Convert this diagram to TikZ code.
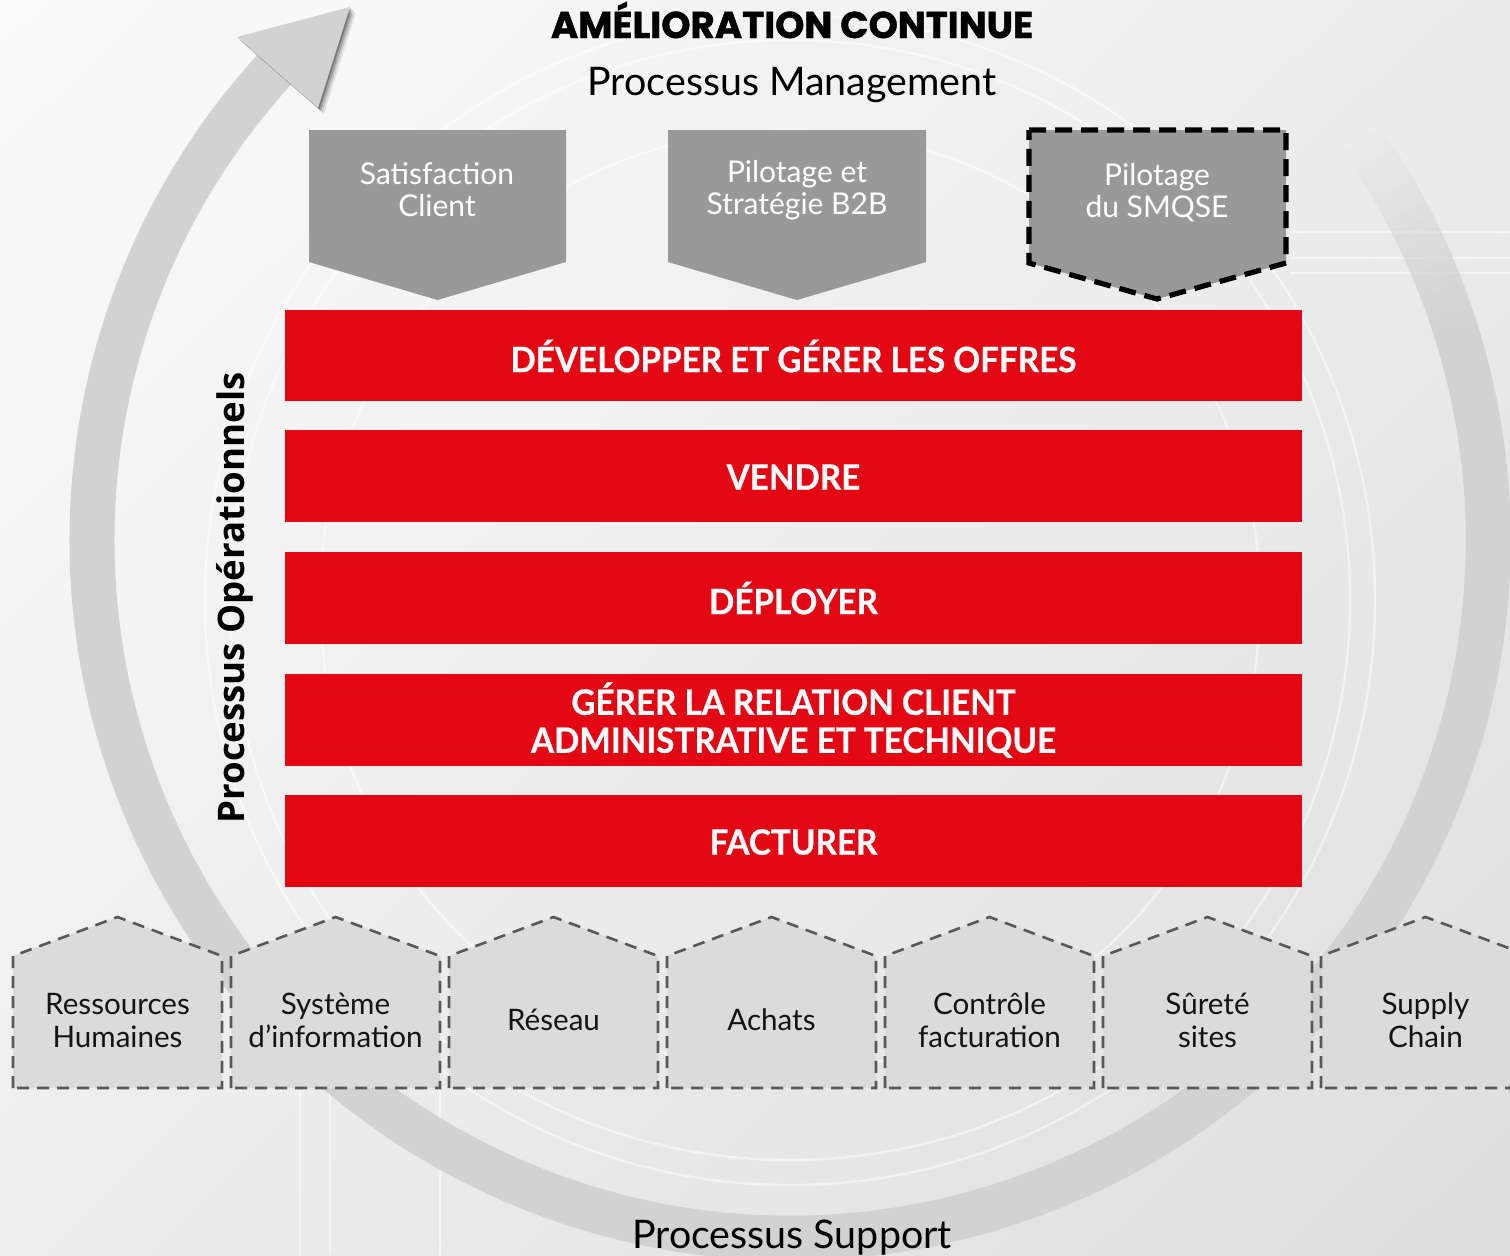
\documentclass[tikz,border=0pt]{standalone}
\usepackage{fontspec}
\setmainfont{Lato}
\newfontfamily\titlefont{Poppins}[BoldFeatures={FakeBold=1.2}]
\newfontfamily\redfont{Lato}[BoldFeatures={FakeStretch=0.95,FakeBold=0.5}]
\newfontfamily\opfont{Open Sans}
\usetikzlibrary{shadings}
\definecolor{redbox}{RGB}{227,6,19}
\definecolor{mgmt}{RGB}{153,153,153}
\definecolor{housefill}{RGB}{219,219,219}
\definecolor{housedash}{RGB}{88,88,88}
\definecolor{ringgrey}{RGB}{210,210,210}
\definecolor{txtdark}{RGB}{20,20,20}
\definecolor{bgul}{RGB}{251,251,251}
\definecolor{bgur}{RGB}{236,236,236}
\definecolor{bgll}{RGB}{238,238,238}
\definecolor{bglr}{RGB}{222,222,222}
\tikzset{
  redfill/.style={fill=redbox},
  redtext/.style={text=white,font=\redfont\bfseries\fontsize{17.5}{19}\selectfont,align=center,inner sep=0pt},
  mgmtfill/.style={fill=mgmt},
  mgmttext/.style={text=white,font=\fontsize{15}{16}\selectfont,align=center,inner sep=0pt},
  housebox/.style={fill=housefill,draw=housedash,line width=1.3pt,dash pattern=on 6pt off 4pt},
  housetext/.style={text=txtdark,font=\fontsize{14.8}{16.5}\selectfont,align=center,inner sep=0pt},
  deco/.style={draw=white,line width=1.2pt,opacity=0.5},
}
\begin{document}
\begin{tikzpicture}[x=0.5pt,y=-0.5pt]
\useasboundingbox (0,0) rectangle (1510,1255);
% background
\shade[upper left=bgul,upper right=bgur,lower left=bgll,lower right=bglr]
  (0,0) rectangle (1510,1255);
% faint decoration
\draw[deco] (790,600) circle[radius=560];
\draw[deco] (790,600) circle[radius=585];
\draw[deco] (790,600) circle[radius=470];
\draw[deco] (1290,232) -- (1510,232);
\draw[deco] (1290,258) -- (1510,258);
\draw[deco] (1290,273) -- (1510,273);
\draw[deco] (300,1090) -- (300,1255);
\draw[deco] (330,1090) -- (330,1255);
\draw[deco] (440,1090) -- (440,1255);
% ring with fading start
\foreach \i in {0,...,16}{
  \pgfmathsetmacro\op{(\i+1)/18}
  \draw[ringgrey,line width=22.5pt,opacity=\op] ({790+698*cos(-35+\i)},{540+698*sin(-35+\i)})
     arc[start angle=-35+\i,end angle=-34+\i,radius=698];
}
\draw[ringgrey,line width=22.5pt] ({790+698*cos(-18)},{540+698*sin(-18)})
   arc[start angle=-18,end angle=223,radius=698];
% arrowhead with soft shadow
\foreach \s/\o in {6/0.08,4.5/0.12,3/0.18,1.5/0.25}{
  \fill[black,opacity=\o] (237+\s,37+\s) -- (350+\s,7+\s) -- (318+\s,108+\s) -- cycle;
}
\fill[ringgrey] (237,37) -- (350,7) -- (318,108) -- cycle;
% titles
\node[anchor=base,font=\titlefont\bfseries\fontsize{18.6}{20}\selectfont,text=black,inner sep=0pt] (title) at (792,38) {AMÉLIORATION CONTINUE};
\node[anchor=base,font=\fontsize{19.7}{22}\selectfont,text=black,inner sep=0pt] (mgmttitle) at (792,95) {Processus Management};
\node[anchor=base,font=\fontsize{19.7}{22}\selectfont,text=black,inner sep=0pt] (supptitle) at (792,1248) {Processus Support};
% management pentagons
\fill[mgmtfill] (309,130) -- (566,130) -- (566,262) -- (437.5,300) -- (309,262) -- cycle;
\node[mgmttext] (m1) at (437,190) {Satisfaction\\Client};
\fill[mgmtfill] (668,130) -- (926,130) -- (926,262) -- (797,300) -- (668,262) -- cycle;
\node[mgmttext] (m2) at (797,190) {Pilotage et\\Stratégie B2B};
\filldraw[mgmtfill,draw=black,line width=2.6pt,dash pattern=on 8.5pt off 4.5pt]
  (1029,130) -- (1286,130) -- (1286,263) -- (1157,299) -- (1029,263) -- cycle;
\node[mgmttext] (m3) at (1157,193) {Pilotage\\du SMQSE};
% operational red boxes
\fill[redfill] (285,310) rectangle (1302,401);
\node[redtext] (o1) at (793.5,356) {DÉVELOPPER ET GÉRER LES OFFRES};
\fill[redfill] (285,430) rectangle (1302,522);
\node[redtext] (o2) at (793.5,477) {VENDRE};
\fill[redfill] (285,552) rectangle (1302,644);
\node[redtext] (o3) at (793.5,598) {DÉPLOYER};
\fill[redfill] (285,674) rectangle (1302,766);
\node[redtext] (o4) at (793.5,720) {GÉRER LA RELATION CLIENT\\ADMINISTRATIVE ET TECHNIQUE};
\fill[redfill] (285,795) rectangle (1302,887);
\node[redtext] (o5) at (793.5,842) {FACTURER};
% vertical label
\node[rotate=90,font=\opfont\bfseries\fontsize{18.3}{19}\selectfont,text=black,inner sep=0pt] (oplabel) at (235,598) {Processus Opérationnels};
% support houses
\foreach \i/\txt in {0/{Ressources\\Humaines},1/{Système\\d’information},2/{Réseau},3/{Achats},4/{Contrôle\\facturation},5/{Sûreté\\sites},6/{Supply\\Chain}}{
  \pgfmathsetmacro\xl{13+218*\i}
  \pgfmathsetmacro\xr{\xl+209}
  \pgfmathsetmacro\xm{\xl+104.5}
  \filldraw[housebox] (\xl,1088) -- (\xl,956) -- (\xm,917) -- (\xr,956) -- (\xr,1088) -- cycle;
  \node[housetext] (s\i) at (\xm,1020) {\txt};
}
\end{tikzpicture}
\end{document}
